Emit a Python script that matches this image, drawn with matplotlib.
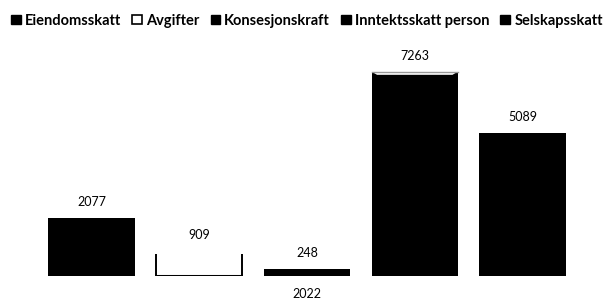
import matplotlib
matplotlib.use("Agg")
import matplotlib.pyplot as plt
from matplotlib.patches import Polygon, Patch

plt.rcParams['font.family'] = ['Lato', 'DejaVu Sans']

series = ["Eiendomsskatt", "Avgifter", "Konsesjonskraft",
          "Inntektsskatt person", "Selskapsskatt"]
values = [2077, 909, 248, 7263, 5089]
category = "2022"

fig = plt.figure(figsize=(6.14, 3.02), dpi=100)
ax = fig.add_axes([26.85 / 614, 26 / 302, 560.3 / 614, 225 / 302])

width = 0.8
xs = list(range(len(values)))
faces = ['black', 'white', 'black', 'black', 'black']
bars = ax.bar(xs, values, width=width, color=faces, edgecolor='none')

# hollow "Avgifter" bar: only sides and bottom are drawn
x0, v = xs[1] - width / 2, values[1]
ax.plot([x0, x0], [0, v * 0.88], color='black', lw=1.4, solid_capstyle='butt')
ax.plot([x0 + width, x0 + width], [0, v * 0.88], color='black', lw=1.4,
        solid_capstyle='butt')
ax.plot([x0, x0 + width], [0, 0], color='black', lw=2.2, solid_capstyle='butt')

# bevelled top on "Inntektsskatt person"
x0, v = xs[3] - width / 2, values[3]
ax.add_patch(Polygon([(x0, v), (x0 + width, v), (x0 + width - 0.05, v - 110),
                      (x0 + 0.05, v - 110)], closed=True,
                     facecolor='white', edgecolor='none', zorder=3))
ax.plot([x0, x0 + width], [v, v], color='#999999', lw=1, zorder=4)

ax.bar_label(bars, labels=[str(x) for x in values], padding=7, fontsize=9)

ax.set_xlim(-0.6, 4.6)
ax.set_ylim(0, 8000)
ax.set_xticks([2])
ax.set_xticklabels([category], fontsize=9)
ax.tick_params(axis='x', length=0, pad=9)
ax.set_yticks([])
for s in ax.spines.values():
    s.set_visible(False)

handles = [Patch(facecolor='black', edgecolor='black'),
           Patch(facecolor='white', edgecolor='black', lw=1.2),
           Patch(facecolor='black', edgecolor='black'),
           Patch(facecolor='black', edgecolor='black'),
           Patch(facecolor='black', edgecolor='black')]
fig.legend(handles, series, loc='upper center', bbox_to_anchor=(0.5, 0.998),
           ncol=5, frameon=False, handlelength=0.65, handleheight=0.65,
           handletextpad=0.3, columnspacing=0.75,
           prop={'weight': 'bold', 'size': 10.5})

fig.savefig("out.png", dpi=100)
